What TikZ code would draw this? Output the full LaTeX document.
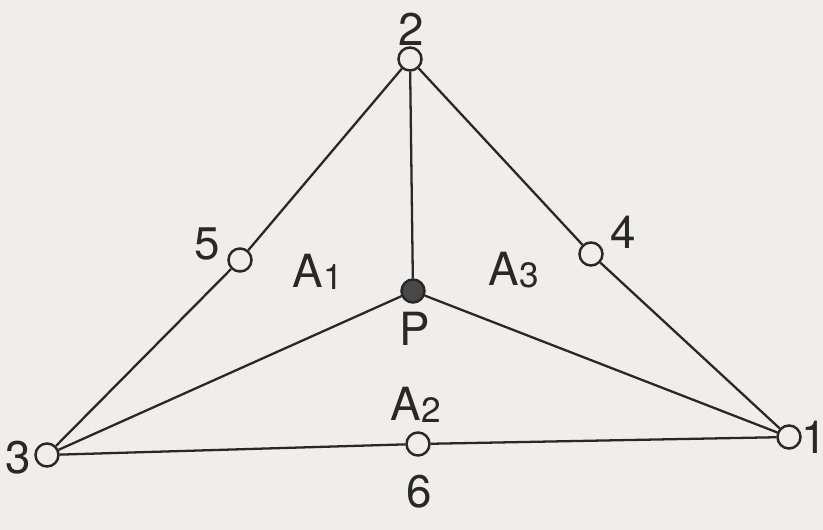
\documentclass[tikz,border=0pt]{standalone}
\usepackage{fontspec}
\setmainfont{TeX Gyre Heros}
\usepackage{tikz}
\definecolor{paper}{RGB}{239,238,237}
\definecolor{ink}{RGB}{40,40,40}
\newcommand{\Asub}[1]{A{\fontsize{10}{11}\selectfont\lower0.6pt\hbox{#1}}}

\begin{document}
\begin{tikzpicture}[
  x=0.01cm, y=-0.01cm,
  vertex/.style={circle, draw=ink, fill=paper, line width=0.7pt, minimum size=0.23cm, inner sep=0pt},
  pivot/.style={circle, draw=ink, fill=ink!85, line width=0.7pt, minimum size=0.23cm, inner sep=0pt},
  tag/.style={text=ink, font=\fontsize{13}{15}\selectfont, inner sep=1pt},
  edge/.style={draw=ink, line width=0.65pt}
]
\fill[paper] (0,0) rectangle (823,530);
\useasboundingbox (0,0) rectangle (823,530);
% corner and side points
\node[vertex] (n1) at (789,437) {};
\node[vertex] (n2) at (410,59) {};
\node[vertex] (n3) at (47,455) {};
\node[vertex] (n4) at (591,254) {};
\node[vertex] (n5) at (240,260) {};
\node[vertex] (n6) at (418,444) {};
\node[pivot] (p) at (413,291) {};
% edges
\draw[edge] (n3) -- (n5) -- (n2) -- (n4) -- (n1) -- (n6) -- (n3);
\draw[edge] (p) -- (n2);
\draw[edge] (p) -- (n3);
\draw[edge] (p) -- (n1);
% labels
\node[tag] (l1) at (814,437) {1};
\node[tag] (l2) at (411,29) {2};
\node[tag] (l3) at (18,458) {3};
\node[tag] (l4) at (623,232) {4};
\node[tag] (l5) at (207,244) {5};
\node[tag] (l6) at (419,492) {6};
\node[tag] (lp) at (415,329) {P};
\node[tag] (a1) at (318,272) {\Asub{1}};
\node[tag] (a3) at (514,270) {\Asub{3}};
\node[tag] (a2) at (416,405) {\Asub{2}};
\end{tikzpicture}
\end{document}
